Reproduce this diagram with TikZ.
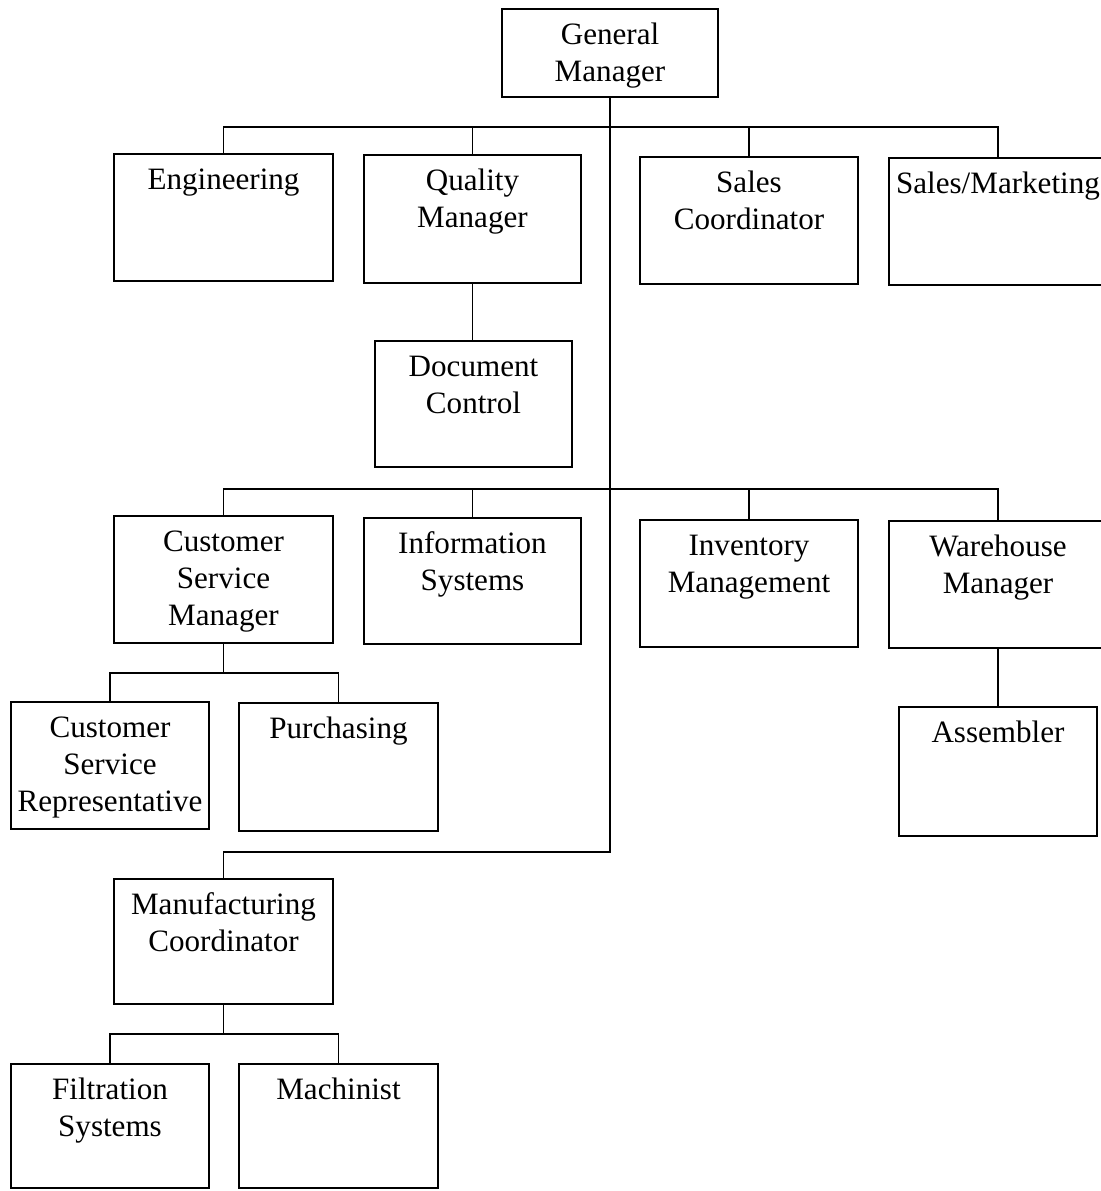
\documentclass[tikz,border=0pt]{standalone}
\usepackage{fontspec}
\setmainfont{Liberation Serif}
\usetikzlibrary{fit}

% One unit of the chart: a framed box with its title set at the top
\newcommand{\orgunit}[6]{%
  \node[unitbox, fit={(#2,#3)(#4,#5)}] (#1) {};
  \node[unitlabel] (#1-label) at ([yshift=-0.2cm]#1.north) {\strut #6};
}

\begin{document}
\begin{tikzpicture}[
  x=0.02cm, y=-0.02cm,
  unitbox/.style={draw=black, line width=1.6pt, inner sep=0pt, fill=white},
  unitlabel/.style={anchor=north, align=center, inner sep=0pt,
    font=\fontsize{17.7}{21.3}\selectfont},
  link/.style={draw=black, line width=1.1pt, line join=miter},
]
\fill[white] (0,0) rectangle (1101,1191);
\clip (0,0) rectangle (1101,1191);

% ---- top of the chart
\orgunit{gm}{502}{9}{718}{97}{General\\Manager}

% ---- first row
\orgunit{eng}{114}{154}{333}{281}{Engineering}
\orgunit{qm}{364}{155}{581}{283}{Quality\\Manager}
\orgunit{sc}{640}{157}{858}{284}{Sales\\Coordinator}
\orgunit{sm}{889}{158}{1107}{285}{Sales/Marketing}
\orgunit{dc}{375}{341}{572}{467}{Document\\Control}

% ---- second row
\orgunit{csm}{114}{516}{333}{643}{Customer\\Service\\Manager}
\orgunit{is}{364}{518}{581}{644}{Information\\Systems}
\orgunit{im}{640}{520}{858}{647}{Inventory\\Management}
\orgunit{wm}{889}{521}{1107}{648}{Warehouse\\Manager}

\orgunit{csr}{11}{702}{209}{829}{Customer\\Service\\Representative}
\orgunit{pur}{239}{703}{438}{831}{Purchasing}
\orgunit{asm}{899}{707}{1097}{836}{Assembler}

% ---- manufacturing branch
\orgunit{mfg}{114}{879}{333}{1004}{Manufacturing\\Coordinator}
\orgunit{fil}{11}{1064}{209}{1188}{Filtration\\Systems}
\orgunit{mach}{239}{1064}{438}{1188}{Machinist}

% ---- connectors
\coordinate (busA) at (610,127);
\coordinate (busB) at (610,489);
\coordinate (turn) at (610,852);
\coordinate (csmbus) at (223,673);
\coordinate (mfgbus) at (223,1034);

\draw[link] (gm.south) -- (turn) -| (mfg.north);

\draw[link] (eng.north) |- (busA);
\draw[link] (qm.north) |- (busA);
\draw[link] (sc.north) |- (busA);
\draw[link] (sm.north) |- (busA);
\draw[link] (qm.south) -- (qm.south |- dc.north);

\draw[link] (csm.north) |- (busB);
\draw[link] (is.north) |- (busB);
\draw[link] (im.north) |- (busB);
\draw[link] (wm.north) |- (busB);

\draw[link] (csm.south) -- (csm.south |- csmbus);
\draw[link] (csr.north) |- (csm.south |- csmbus);
\draw[link] (pur.north) |- (csm.south |- csmbus);
\draw[link] (wm.south) -- (asm.north);

\draw[link] (mfg.south) -- (mfg.south |- mfgbus);
\draw[link] (fil.north) |- (mfg.south |- mfgbus);
\draw[link] (mach.north) |- (mfg.south |- mfgbus);
\end{tikzpicture}
\end{document}
